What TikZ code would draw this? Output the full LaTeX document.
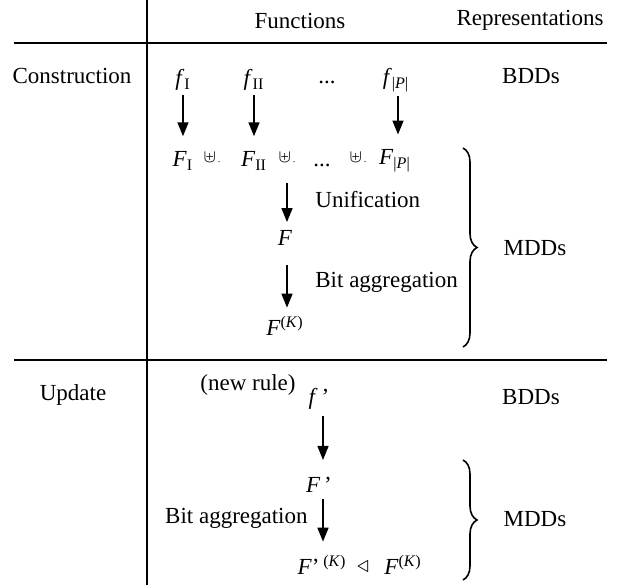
\documentclass[tikz,border=0pt]{standalone}
\usepackage{fontspec}
\setmainfont{Liberation Serif}
\usetikzlibrary{arrows.meta,decorations.pathreplacing,calc}
\begin{document}
\begin{tikzpicture}[x=0.5pt,y=-0.5pt]
\tikzset{lbl/.style={inner sep=1pt, font=\fontsize{11.5}{13.8}\selectfont},
  fleche/.style={line width=0.8pt, -{Triangle[length=7pt,width=5.5pt]}},
  accol/.style={line width=0.8pt, decorate, decoration={brace, amplitude=7pt}}}
\useasboundingbox (0,0) rectangle (618,588);
% table
\draw[line width=0.75pt] (147,0) -- (147,585);
\draw[line width=0.75pt] (14,43) -- (607,43);
\draw[line width=0.75pt] (14,360) -- (607,360);
\node[lbl] (tfun) at (300,21) {Functions};
\node[lbl] (trep) at (530,20) {Representations};
\node[lbl] (tcon) at (72,76) {Construction};
\node[lbl] (tupd) at (73,395) {Update};
% construction
\node[lbl] (f1) at (183,80) {\textit{f}\textsubscript{I}};
\node[lbl] (f2) at (254,80) {\textit{f}\textsubscript{II}};
\node[lbl] (fdots) at (327,82) {...};
\node[lbl] (fp) at (396,80) {\textit{f}\textsubscript{|\textit{P}|}};
\node[lbl] (bdd1) at (531,76) {BDDs};
\node[lbl] (F1) at (183,161) {\textit{F}\textsubscript{I}};
\node[lbl] (u1) at (212,158) {\small$\uplus$\hspace{1pt}{\tiny.}};
\node[lbl] (F2) at (254,161) {\textit{F}\textsubscript{II}};
\node[lbl] (u2) at (287,158) {\small$\uplus$\hspace{1pt}{\tiny.}};
\node[lbl] (Fdots) at (322,165) {...};
\node[lbl] (u3) at (358,158) {\small$\uplus$\hspace{1pt}{\tiny.}};
\node[lbl] (Fp) at (395,161) {\textit{F}\textsubscript{|\textit{P}|}};
\node[lbl] (F) at (285,238) {\textit{F}};
\node[lbl] (FK) at (285,326) {\textit{F}\textsuperscript{(\textit{K})}};
\node[lbl, anchor=west] (unif) at (313,200) {Unification};
\node[lbl, anchor=west] (agg1) at (313,282) {Bit aggregation};
\draw[fleche, shorten >=6.5pt] (f1.south -| F1) ++(0,2) -- (F1.north);
\draw[fleche, shorten >=6.5pt] (f2.south -| F2) ++(0,2) -- (F2.north);
\draw[fleche, shorten >=6.5pt] (fp.south) ++(2,2) -- ($(fp.south |- Fp.north)+(2,0)$);
\draw[fleche, shorten >=3pt] (F2.south -| u2) ++(0,10) -- (F.north -| u2);
\draw[fleche, shorten >=3pt] (F.south -| u2) ++(0,17) -- (FK.north -| u2);
\coordinate (b1t) at (463,148);
\coordinate (b1b) at (463,347);
\draw[accol] (b1t) -- (b1b);
\node[lbl] (mdd1) at (535,248) {MDDs};
% update
\node[lbl] (rule) at (248,385) {(new rule)};
\node[lbl] (fn) at (319,399) {\textit{f}\,’};
\node[lbl] (bdd2) at (531,397) {BDDs};
\node[lbl] (Fn) at (319,485) {\textit{F}\,’};
\node[lbl, anchor=east] (agg2) at (310,518) {Bit aggregation};
\node[lbl] (FnK) at (322,565) {\textit{F}’\,\textsuperscript{(\textit{K})}};
\node[lbl] (tri) at (363,567) {$\triangleleft$};
\node[lbl] (FK2) at (403,565) {\textit{F}\textsuperscript{(\textit{K})}};
\draw[fleche, shorten >=4.5pt] (fn.south) ++(4,4) -- ($(Fn.north)+(4,-6)$);
\draw[fleche, shorten >=5.5pt] (Fn.south) ++(4,4) -- ($(FnK.north)+(1,0)$);
\coordinate (b2t) at (463,460);
\coordinate (b2b) at (463,580);
\draw[accol] (b2t) -- (b2b);
\node[lbl] (mdd2) at (535,519) {MDDs};
\end{tikzpicture}
\end{document}
